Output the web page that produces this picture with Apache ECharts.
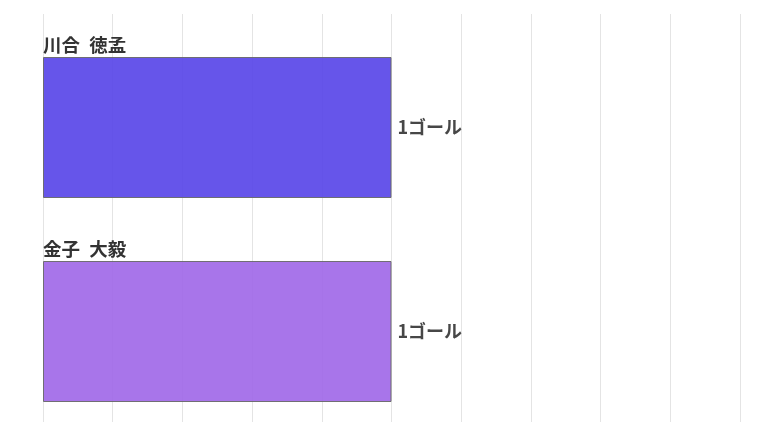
<!DOCTYPE html>
<html><head><meta charset="utf-8">
<script src="https://cdn.jsdelivr.net/npm/echarts@6/dist/echarts.min.js"></script>
<style>html,body{margin:0;padding:0;background:#fff}#c{width:762px;height:436px}</style>
</head><body><div id="c"></div>
<script>
const categories = ['川合\u2002徳孟', '金子\u2002大毅'];
const values = [1, 1];
const unit = 'ゴール';
const colors = ['#5543E8', '#9E66E8'];
const xMax = 2;
const xStep = 0.2;

const chart = echarts.init(document.getElementById('c'), null, {renderer: 'canvas'});
const font = '"Noto Sans CJK JP", "Noto Sans", sans-serif';
chart.setOption({
  animation: false,
  grid: [
    {left: 43, right: 22, top: 14, height: 408},
    {left: 43, right: 22, top: 25.5, height: 408}
  ],
  xAxis: [
    {gridIndex: 0, type: 'value', min: 0, max: xMax, interval: xStep,
     axisLabel: {show: false}, axisLine: {show: false}, axisTick: {show: false},
     splitLine: {show: true, lineStyle: {color: '#e4e4e4', width: 1}}},
    {gridIndex: 1, type: 'value', min: 0, max: xMax, interval: xStep,
     axisLabel: {show: false}, axisLine: {show: false}, axisTick: {show: false},
     splitLine: {show: false}}
  ],
  yAxis: [
    {gridIndex: 0, type: 'category', data: categories, show: false},
    {gridIndex: 1, type: 'category', data: categories, inverse: true, show: false}
  ],
  series: [
    {
      type: 'bar', xAxisIndex: 1, yAxisIndex: 1, barWidth: 141, z: 1,
      data: values.map((v, i) => ({value: v, itemStyle: {color: colors[i]}})),
      itemStyle: {opacity: 0.9, borderColor: '#666', borderWidth: 1},
      label: {show: true, position: 'right', distance: 6,
              formatter: p => p.value + unit,
              fontFamily: font, fontWeight: 'bold', fontSize: 18, color: '#333'}
    },
    {
      type: 'bar', xAxisIndex: 1, yAxisIndex: 1, barWidth: 141, barGap: '-100%', z: 0,
      data: values,
      itemStyle: {color: 'rgba(0,0,0,0)'},
      label: {show: true, position: [0, -3], align: 'left', verticalAlign: 'bottom',
              formatter: p => p.name,
              fontFamily: font, fontWeight: 'bold', fontSize: 18.5, color: '#333'}
    }
  ]
});
</script></body></html>
